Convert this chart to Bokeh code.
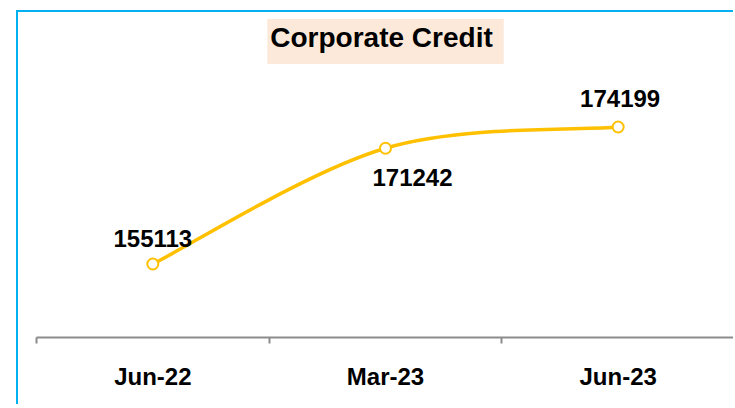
from bokeh.plotting import figure
from bokeh.models import ColumnDataSource, Range1d, FixedTicker, Label
from bokeh.core.properties import value
from bokeh.embed import file_html
from bokeh.resources import INLINE

# ---- data ----
categories = ["Jun-22", "Mar-23", "Jun-23"]
credit = [155113, 171242, 174199]
title_text = "Corporate Credit"

FONT = "Liberation Sans"
LINE = "#FFC000"

xs = [i + 0.5 for i in range(len(categories))]

p = figure(width=717, height=394, output_backend="svg", toolbar_location=None,
           x_range=Range1d(0, len(categories)), y_range=Range1d(144874, 190150),
           y_axis_location=None, min_border_left=18, min_border_right=1,
           min_border_top=0, min_border_bottom=69)
p.margin = (10, 0, 0, 16)
p.styles = {"border-left": "2px solid #00B0F0", "border-top": "2px solid #00B0F0"}
p.outline_line_color = None
p.background_fill_color = "white"
p.border_fill_color = "white"
p.xgrid.grid_line_color = None
p.ygrid.grid_line_color = None

# x axis: labels at category centres, tick marks at category boundaries
ax = p.xaxis[0]
ax.ticker = FixedTicker(ticks=xs, minor_ticks=list(range(len(categories) + 1)))
ax.major_label_overrides = {x: c for x, c in zip(xs, categories)}
ax.major_tick_line_color = None
ax.major_tick_out = 0
ax.major_tick_in = 0
ax.minor_tick_line_color = "#8c8c8c"
ax.minor_tick_line_width = 2
ax.minor_tick_out = 6
ax.minor_tick_in = 0
ax.axis_line_color = "#8c8c8c"
ax.axis_line_width = 2
ax.major_label_text_font = FONT
ax.major_label_text_font_style = "bold"
ax.major_label_text_font_size = "24px"
ax.major_label_text_color = "black"
ax.major_label_standoff = 19

# smoothed line (Catmull-Rom style Bezier through the points)
n = len(xs)
x0, y0, x1, y1, cx0, cy0, cx1, cy1 = [], [], [], [], [], [], [], []
for i in range(n - 1):
    pa = (xs[max(i - 1, 0)], credit[max(i - 1, 0)])
    pb = (xs[i], credit[i])
    pc = (xs[i + 1], credit[i + 1])
    pd = (xs[min(i + 2, n - 1)], credit[min(i + 2, n - 1)])
    x0.append(pb[0]); y0.append(pb[1])
    x1.append(pc[0]); y1.append(pc[1])
    cx0.append(pb[0] + (pc[0] - pa[0]) / 6); cy0.append(pb[1] + (pc[1] - pa[1]) / 6)
    cx1.append(pc[0] - (pd[0] - pb[0]) / 6); cy1.append(pc[1] - (pd[1] - pb[1]) / 6)
p.bezier(x0=x0, y0=y0, x1=x1, y1=y1, cx0=cx0, cy0=cy0, cx1=cx1, cy1=cy1,
         line_color=LINE, line_width=3.5)

src = ColumnDataSource(dict(x=xs, y=credit, label=[str(v) for v in credit],
                            xo=[0, 27, 2], yo=[-26, 29, -28]))
p.scatter("x", "y", source=src, size=11, marker="circle", fill_color="white",
          line_color=LINE, line_width=2)
p.text("x", "y", text="label", source=src, x_offset="xo", y_offset="yo",
       text_align="center", text_baseline="alphabetic",
       text_font=value(FONT), text_font_style="bold", text_font_size="24px",
       text_color="black")

# title box
p.add_layout(Label(x=len(categories) / 2, y=186110, text=title_text,
                   text_align="center", text_baseline="middle",
                   text_font=FONT, text_font_style="bold", text_font_size="28px",
                   text_color="black", background_fill_color="#FDE9D9",
                   padding=(3, 11, 3, 11)))

open("out.html", "w").write(file_html(p, INLINE))
